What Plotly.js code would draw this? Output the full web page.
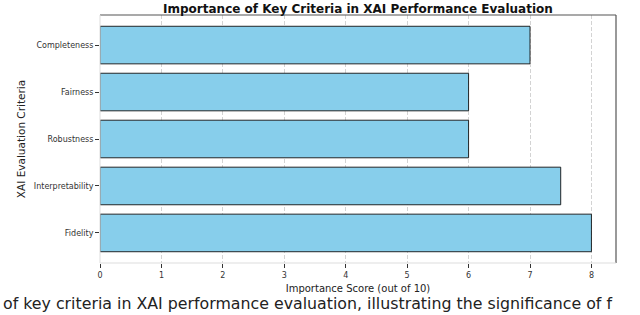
<!DOCTYPE html>
<html>
<head>
<meta charset="utf-8">
<script src="https://cdn.plot.ly/plotly-3.0.1.min.js"></script>
<style>html,body{margin:0;padding:0;background:#fff;overflow:hidden;}</style>
</head>
<body>
<div id="chart" style="width:640px;height:315px;"></div>
<script>
const criteria = ["Fidelity", "Interpretability", "Robustness", "Fairness", "Completeness"];
const scores = [8, 7.5, 6, 6, 7];
const xTicks = [0, 1, 2, 3, 4, 5, 6, 7, 8];
const titleText = "Importance of Key Criteria in XAI Performance Evaluation";
const xTitle = "Importance Score (out of 10)";
const yTitle = "XAI Evaluation Criteria";
const captionText = "of key criteria in XAI performance evaluation, illustrating the significance of f";

const trace = {
  type: "bar",
  orientation: "h",
  x: scores,
  y: criteria,
  width: 0.8,
  marker: {color: "#87CEEB", line: {color: "#111", width: 0.9}},
  hoverinfo: "none"
};

const layout = {
  width: 640, height: 315,
  margin: {l: 100, r: 24, t: 15, b: 52},
  paper_bgcolor: "#fff", plot_bgcolor: "#fff",
  showlegend: false,
  font: {family: "DejaVu Sans", color: "#333"},
  title: {text: "<b>" + titleText + "</b>", x: 0.5593, xanchor: "center", y: 0.985, yanchor: "top",
          font: {family: "DejaVu Sans", size: 12, color: "#111"}},
  xaxis: {
    range: [0, 8.4], tickvals: xTicks, ticktext: xTicks.map(String),
    showgrid: true, gridcolor: "#c8c8c8", griddash: "4px,2px", gridwidth: 0.8,
    zeroline: false, showline: false,
    ticks: "outside", ticklen: 4, tickcolor: "#333", tickwidth: 1,
    tickfont: {size: 8, color: "#333"},
    title: {text: xTitle, font: {size: 10, color: "#222"}, standoff: 6}
  },
  yaxis: {
    range: [-0.64, 4.64], showgrid: false, zeroline: false, showline: false,
    ticks: "outside", ticklen: 4, tickcolor: "#333", tickwidth: 1,
    tickfont: {size: 8, color: "#333"},
    title: {text: yTitle, font: {size: 10.5, color: "#222"}, standoff: 6}
  },
  shapes: [
    {type: "line", xref: "paper", yref: "paper", x0: 0, x1: 1, y0: 1, y1: 1, line: {color: "#555", width: 1.2}},
    {type: "line", xref: "paper", yref: "paper", x0: 1, x1: 1, y0: 0, y1: 1, line: {color: "#555", width: 1.2}},
    {type: "line", xref: "paper", yref: "paper", x0: 0, x1: 1, y0: 0, y1: 0, line: {color: "#ddd", width: 1}},
    {type: "line", xref: "paper", yref: "paper", x0: 0, x1: 0, y0: 0, y1: 1, line: {color: "#ddd", width: 1}}
  ],
  annotations: [{
    text: captionText, xref: "paper", yref: "paper",
    x: -99/516, xanchor: "left", y: -0.208, yanchor: "bottom",
    showarrow: false, font: {family: "DejaVu Sans", size: 15.8, color: "#222"}
  }]
};

Plotly.newPlot("chart", [trace], layout, {staticPlot: true, displayModeBar: false});
</script>
</body>
</html>
